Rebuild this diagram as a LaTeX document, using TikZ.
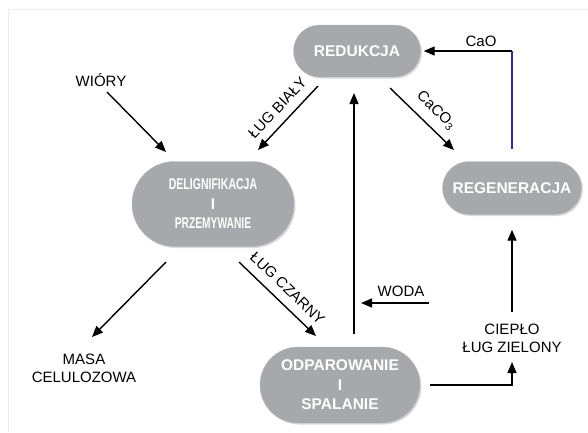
\documentclass[tikz,border=0pt]{standalone}
\usepackage{fontspec}
\setmainfont{Liberation Sans}
\usetikzlibrary{arrows.meta,positioning,shapes.misc,shadows}
\definecolor{procgray}{RGB}{166,168,171}
\definecolor{caoblue}{RGB}{40,52,130}
\definecolor{framegray}{RGB}{236,236,236}
\tikzset{
    every node/.style={font=\fontsize{15}{18}\selectfont},
    proc node/.style={rounded rectangle,fill=procgray,draw=gray!55,thin,text=white,align=center,inner sep=0pt,
        font=\bfseries\fontsize{15.5}{19.5}\selectfont,
        drop shadow={shadow xshift=1.5pt,shadow yshift=-1.5pt,opacity=0.3}},
    flow label/.style={align=center},
    slope label/.style={sloped,above,outer sep=6pt}
}

\begin{document}
\begin{tikzpicture}[x=1pt,y=-1pt,->,>={Triangle[length=11pt,width=9pt]},line width=1.4pt]
    \useasboundingbox (0,0) rectangle (588,432);
    \draw[-,framegray,line width=1pt] (8,432) -- (8,9) -- (588,9);

    % process steps
    \node[proc node,minimum width=127pt,minimum height=52pt] (reduk) at (357,51) {REDUKCJA};
    \node[proc node,minimum width=139pt,minimum height=53pt] (regen) at (512,188) {REGENERACJA};
    \node[proc node,minimum width=162pt,minimum height=85pt] (delig) at (213,204)
        {\scalebox{0.68}[1]{DELIGNIFIKACJA}\\I\\\scalebox{0.66}[1]{PRZEMYWANIE}};
    \node[proc node,minimum width=160pt,minimum height=76pt] (odpar) at (340,385) {ODPAROWANIE\\I\\SPALANIE};

    % inputs and outputs
    \node[flow label] (wiory) at (101,80) {WIÓRY};
    \node[flow label] (masa) at (84,368) {MASA\\CELULOZOWA};
    \node[flow label] (cieplo) at (512,338) {CIEPŁO\\ŁUG ZIELONY};
    \node[flow label] (woda) at (401,291) {WODA};
    \node[flow label] (cao) at (481,41) {CaO};
    \coordinate (caocorner) at (regen.north |- reduk.east);

    \draw ([shift={(6,12)}]wiory.center) -- ([shift={(-47,-52)}]delig.center);
    \draw ([shift={(-47,58)}]delig.center) -- ([shift={(8,-31)}]masa.center);
    \draw[<-] ([shift={(45,-54)}]delig.center) -- node[slope label] {ŁUG BIAŁY} ([shift={(-39,35)}]reduk.center);
    \draw ([shift={(33,37)}]reduk.center) -- node[slope label,pos=0.55] {CaCO\textsubscript{3}} ([shift={(-58,-38)}]regen.center);
    \draw ([shift={(26,58)}]delig.center) -- node[slope label] {ŁUG CZARNY} ([shift={(-24,-49)}]odpar.center);
    \draw ([shift={(14,-51)}]odpar.center) -- ([shift={(-3,42)}]reduk.center);
    \draw ([shift={(28,12)}]woda.center) -- ([shift={(-40,12)}]woda.center);
    \draw ([xshift=10pt]odpar.east) -| ([shift={(0,24)}]cieplo.center);
    \draw ([shift={(0,-26)}]cieplo.center) -- ([shift={(0,15)}]regen.south);
    \draw[-,caoblue,line width=1.1pt] ([shift={(0,-12)}]regen.north) -- (caocorner);
    \draw (caocorner) -- ([xshift=3pt]reduk.east);
\end{tikzpicture}
\end{document}
